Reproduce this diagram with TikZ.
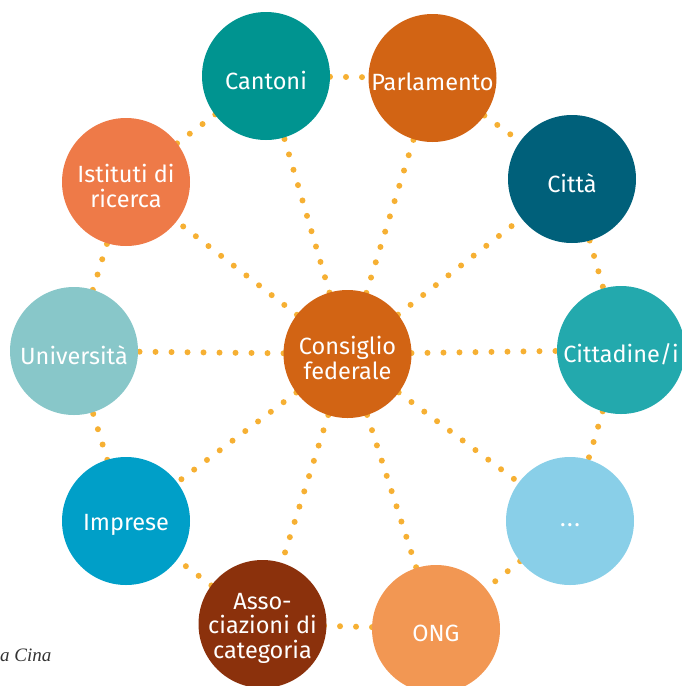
\documentclass[tikz,border=0pt]{standalone}
\usepackage{fontspec}
\setmainfont{Fira Sans}
\newfontfamily\capfont{Liberation Serif}
\usetikzlibrary{backgrounds}
\definecolor{dotc}{HTML}{F6B033}
\definecolor{cFed}{HTML}{D26414}
\definecolor{cCant}{HTML}{009490}
\definecolor{cParl}{HTML}{D26414}
\definecolor{cCitta}{HTML}{00607A}
\definecolor{cCittad}{HTML}{23A9AD}
\definecolor{cDots}{HTML}{89CFE8}
\definecolor{cOng}{HTML}{F29753}
\definecolor{cAsso}{HTML}{8B310C}
\definecolor{cImpr}{HTML}{009FC8}
\definecolor{cUni}{HTML}{88C7C9}
\definecolor{cIst}{HTML}{EE7A48}
\definecolor{capc}{HTML}{333333}
\newcommand\mkbubble[4]{%
  \node[bubble, fill=#2] (#1) at (#3) {};
  \node[bubtext] (#1t) at ([yshift=-4pt]#1.center) {#4};}
\begin{document}
\begin{tikzpicture}[x=1pt,y=-1pt,
  bubble/.style={circle, minimum size=128pt, inner sep=0pt},
  bubtext/.style={inner sep=0pt, text=white, align=center,
    font=\fontsize{23.5}{24.5}\selectfont},
  link/.style={draw=dotc, line width=6pt, line cap=round, dash pattern=on 0pt off 16pt}]
\useasboundingbox (0,0) rectangle (681,686);
\mkbubble{cf}{cFed}{347.5,354}{Consiglio\\federale}
\mkbubble{cant}{cCant}{266,76}{Cantoni}
\mkbubble{parl}{cParl}{432.5,78}{Parlamento}
\mkbubble{citta}{cCitta}{572,179}{Città}
\mkbubble{cittad}{cCittad}{621,350}{Cittadine/i}
\mkbubble{etc}{cDots}{570,521}{.\kern1.5pt.\kern1.5pt.}
\mkbubble{ong}{cOng}{436,629}{ONG}
\mkbubble{asso}{cAsso}{262.5,624}{Asso-\\ciazioni di\\categoria}
\mkbubble{impr}{cImpr}{126,521}{Imprese}
\mkbubble{uni}{cUni}{74,351}{Università}
\mkbubble{ist}{cIst}{126,182}{Istituti di\\ricerca}
\node[anchor=base west, inner sep=0pt, text=capc, font=\capfont\itshape\fontsize{19}{22}\selectfont] (cap) at (0,661) {a Cina};
\begin{pgfonlayer}{background}
\foreach \n in {cant,parl,citta,cittad,etc,ong,asso,impr,uni,ist}
  \draw[link] (cf.center) -- (\n.center);
\draw[link] (cant.center) -- (parl.center);
\draw[link] (parl.center) -- (citta.center);
\draw[link] (citta.center) -- (cittad.center);
\draw[link] (cittad.center) -- (etc.center);
\draw[link] (etc.center) -- (ong.center);
\draw[link] (ong.center) -- (asso.center);
\draw[link] (asso.center) -- (impr.center);
\draw[link] (impr.center) -- (uni.center);
\draw[link] (uni.center) -- (ist.center);
\draw[link] (ist.center) -- (cant.center);
\end{pgfonlayer}
\end{tikzpicture}
\end{document}
